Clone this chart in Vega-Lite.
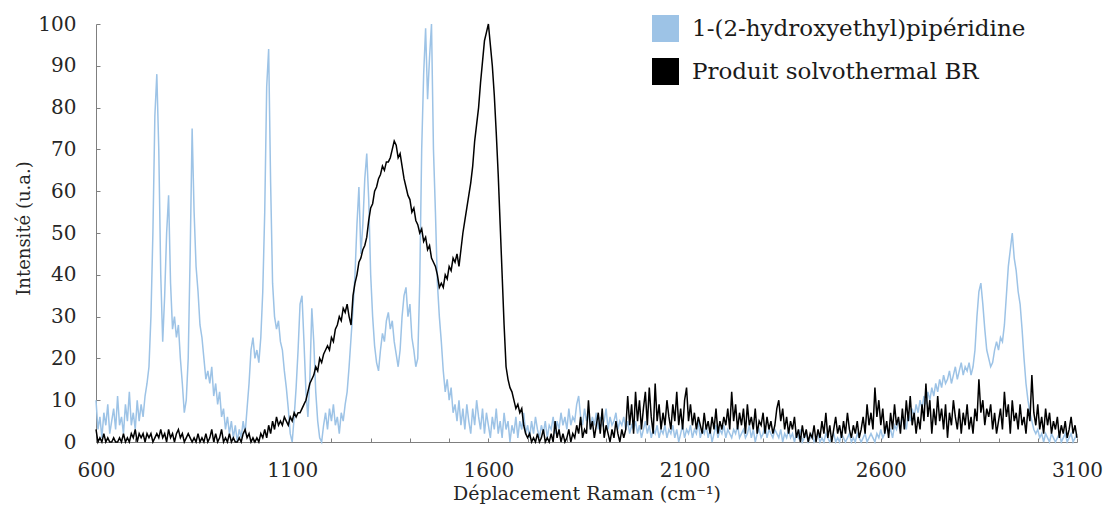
{
"$schema":"https://vega.github.io/schema/vega-lite/v6.json",
"width":981,"height":418,
"autosize":{"type":"none"},
"padding":{"left":96,"top":24,"right":28,"bottom":64},
"background":"white",
"config":{"view":{"stroke":null},"font":"DejaVu Serif"},
"datasets":{
"blue":[{"x":600,"y":10},{"x":605,"y":3},{"x":610,"y":6},{"x":615,"y":1},{"x":620,"y":7},{"x":625,"y":4},{"x":630,"y":9},{"x":635,"y":2},{"x":640,"y":5},{"x":645,"y":8},{"x":650,"y":3},{"x":655,"y":11},{"x":660,"y":4},{"x":665,"y":6},{"x":670,"y":2},{"x":675,"y":9},{"x":680,"y":5},{"x":685,"y":12},{"x":690,"y":4},{"x":695,"y":7},{"x":700,"y":3},{"x":705,"y":10},{"x":710,"y":5},{"x":715,"y":9},{"x":720,"y":6},{"x":725,"y":11},{"x":730,"y":14},{"x":735,"y":18},{"x":740,"y":30},{"x":745,"y":50},{"x":750,"y":78},{"x":755,"y":88},{"x":760,"y":70},{"x":765,"y":40},{"x":770,"y":24},{"x":775,"y":35},{"x":780,"y":50},{"x":785,"y":59},{"x":790,"y":38},{"x":795,"y":27},{"x":800,"y":30},{"x":805,"y":25},{"x":810,"y":28},{"x":815,"y":20},{"x":820,"y":14},{"x":825,"y":7},{"x":830,"y":10},{"x":835,"y":20},{"x":840,"y":45},{"x":845,"y":75},{"x":850,"y":55},{"x":855,"y":42},{"x":860,"y":36},{"x":865,"y":28},{"x":870,"y":25},{"x":875,"y":20},{"x":880,"y":15},{"x":885,"y":17},{"x":890,"y":14},{"x":895,"y":18},{"x":900,"y":11},{"x":905,"y":14},{"x":910,"y":9},{"x":915,"y":12},{"x":920,"y":6},{"x":925,"y":8},{"x":930,"y":3},{"x":935,"y":6},{"x":940,"y":2},{"x":945,"y":5},{"x":950,"y":1},{"x":955,"y":4},{"x":960,"y":0},{"x":965,"y":3},{"x":970,"y":1},{"x":975,"y":5},{"x":980,"y":2},{"x":985,"y":8},{"x":990,"y":14},{"x":995,"y":22},{"x":1000,"y":25},{"x":1005,"y":20},{"x":1010,"y":22},{"x":1015,"y":19},{"x":1020,"y":25},{"x":1025,"y":36},{"x":1030,"y":55},{"x":1035,"y":85},{"x":1040,"y":94},{"x":1045,"y":62},{"x":1050,"y":38},{"x":1055,"y":30},{"x":1060,"y":27},{"x":1065,"y":29},{"x":1070,"y":24},{"x":1075,"y":22},{"x":1080,"y":17},{"x":1085,"y":13},{"x":1090,"y":8},{"x":1095,"y":2},{"x":1100,"y":0},{"x":1105,"y":6},{"x":1110,"y":13},{"x":1115,"y":22},{"x":1120,"y":33},{"x":1125,"y":35},{"x":1130,"y":24},{"x":1135,"y":12},{"x":1140,"y":6},{"x":1145,"y":15},{"x":1150,"y":32},{"x":1155,"y":24},{"x":1160,"y":12},{"x":1165,"y":5},{"x":1170,"y":1},{"x":1175,"y":0},{"x":1180,"y":4},{"x":1185,"y":7},{"x":1190,"y":3},{"x":1195,"y":8},{"x":1200,"y":5},{"x":1205,"y":9},{"x":1210,"y":4},{"x":1215,"y":6},{"x":1220,"y":2},{"x":1225,"y":7},{"x":1230,"y":5},{"x":1235,"y":9},{"x":1240,"y":12},{"x":1245,"y":18},{"x":1250,"y":25},{"x":1255,"y":32},{"x":1260,"y":40},{"x":1265,"y":52},{"x":1270,"y":61},{"x":1275,"y":45},{"x":1280,"y":52},{"x":1285,"y":63},{"x":1290,"y":69},{"x":1295,"y":58},{"x":1300,"y":40},{"x":1305,"y":30},{"x":1310,"y":23},{"x":1315,"y":19},{"x":1320,"y":17},{"x":1325,"y":22},{"x":1330,"y":26},{"x":1335,"y":24},{"x":1340,"y":29},{"x":1345,"y":31},{"x":1350,"y":27},{"x":1355,"y":29},{"x":1360,"y":24},{"x":1365,"y":21},{"x":1370,"y":18},{"x":1375,"y":22},{"x":1380,"y":30},{"x":1385,"y":35},{"x":1390,"y":37},{"x":1395,"y":30},{"x":1400,"y":33},{"x":1405,"y":25},{"x":1410,"y":22},{"x":1415,"y":18},{"x":1420,"y":20},{"x":1425,"y":38},{"x":1430,"y":70},{"x":1435,"y":88},{"x":1440,"y":99},{"x":1445,"y":82},{"x":1450,"y":92},{"x":1455,"y":100},{"x":1460,"y":70},{"x":1465,"y":55},{"x":1470,"y":38},{"x":1475,"y":30},{"x":1480,"y":24},{"x":1485,"y":17},{"x":1490,"y":12},{"x":1495,"y":15},{"x":1500,"y":10},{"x":1505,"y":13},{"x":1510,"y":7},{"x":1515,"y":9},{"x":1520,"y":5},{"x":1525,"y":10},{"x":1530,"y":4},{"x":1535,"y":8},{"x":1540,"y":3},{"x":1545,"y":9},{"x":1550,"y":5},{"x":1555,"y":2},{"x":1560,"y":8},{"x":1565,"y":4},{"x":1570,"y":10},{"x":1575,"y":6},{"x":1580,"y":3},{"x":1585,"y":8},{"x":1590,"y":2},{"x":1595,"y":7},{"x":1600,"y":4},{"x":1605,"y":1},{"x":1610,"y":6},{"x":1615,"y":3},{"x":1620,"y":8},{"x":1625,"y":2},{"x":1630,"y":5},{"x":1635,"y":1},{"x":1640,"y":7},{"x":1645,"y":3},{"x":1650,"y":5},{"x":1655,"y":0},{"x":1660,"y":4},{"x":1665,"y":2},{"x":1670,"y":6},{"x":1675,"y":1},{"x":1680,"y":5},{"x":1685,"y":3},{"x":1690,"y":7},{"x":1695,"y":2},{"x":1700,"y":4},{"x":1705,"y":1},{"x":1710,"y":5},{"x":1715,"y":2},{"x":1720,"y":6},{"x":1725,"y":3},{"x":1730,"y":1},{"x":1735,"y":4},{"x":1740,"y":2},{"x":1745,"y":5},{"x":1750,"y":1},{"x":1755,"y":4},{"x":1760,"y":3},{"x":1765,"y":6},{"x":1770,"y":2},{"x":1775,"y":5},{"x":1780,"y":3},{"x":1785,"y":7},{"x":1790,"y":4},{"x":1795,"y":6},{"x":1800,"y":3},{"x":1805,"y":8},{"x":1810,"y":4},{"x":1815,"y":6},{"x":1820,"y":5},{"x":1825,"y":9},{"x":1830,"y":11},{"x":1835,"y":6},{"x":1840,"y":4},{"x":1845,"y":8},{"x":1850,"y":5},{"x":1855,"y":7},{"x":1860,"y":3},{"x":1865,"y":6},{"x":1870,"y":4},{"x":1875,"y":7},{"x":1880,"y":3},{"x":1885,"y":6},{"x":1890,"y":4},{"x":1895,"y":5},{"x":1900,"y":8},{"x":1905,"y":3},{"x":1910,"y":6},{"x":1915,"y":4},{"x":1920,"y":5},{"x":1925,"y":7},{"x":1930,"y":3},{"x":1935,"y":5},{"x":1940,"y":4},{"x":1945,"y":6},{"x":1950,"y":3},{"x":1955,"y":5},{"x":1960,"y":2},{"x":1965,"y":4},{"x":1970,"y":3},{"x":1975,"y":5},{"x":1980,"y":2},{"x":1985,"y":4},{"x":1990,"y":1},{"x":1995,"y":3},{"x":2000,"y":5},{"x":2005,"y":2},{"x":2010,"y":4},{"x":2015,"y":1},{"x":2020,"y":3},{"x":2025,"y":2},{"x":2030,"y":4},{"x":2035,"y":1},{"x":2040,"y":3},{"x":2045,"y":2},{"x":2050,"y":4},{"x":2055,"y":1},{"x":2060,"y":3},{"x":2065,"y":2},{"x":2070,"y":4},{"x":2075,"y":1},{"x":2080,"y":3},{"x":2085,"y":0},{"x":2090,"y":2},{"x":2095,"y":4},{"x":2100,"y":1},{"x":2105,"y":3},{"x":2110,"y":2},{"x":2115,"y":4},{"x":2120,"y":1},{"x":2125,"y":3},{"x":2130,"y":2},{"x":2135,"y":5},{"x":2140,"y":1},{"x":2145,"y":3},{"x":2150,"y":2},{"x":2155,"y":4},{"x":2160,"y":1},{"x":2165,"y":3},{"x":2170,"y":0},{"x":2175,"y":2},{"x":2180,"y":4},{"x":2185,"y":1},{"x":2190,"y":3},{"x":2195,"y":2},{"x":2200,"y":4},{"x":2205,"y":1},{"x":2210,"y":3},{"x":2215,"y":2},{"x":2220,"y":1},{"x":2225,"y":3},{"x":2230,"y":2},{"x":2235,"y":4},{"x":2240,"y":1},{"x":2245,"y":2},{"x":2250,"y":3},{"x":2255,"y":1},{"x":2260,"y":2},{"x":2265,"y":4},{"x":2270,"y":1},{"x":2275,"y":3},{"x":2280,"y":0},{"x":2285,"y":2},{"x":2290,"y":3},{"x":2295,"y":1},{"x":2300,"y":2},{"x":2305,"y":4},{"x":2310,"y":1},{"x":2315,"y":3},{"x":2320,"y":2},{"x":2325,"y":1},{"x":2330,"y":3},{"x":2335,"y":2},{"x":2340,"y":1},{"x":2345,"y":3},{"x":2350,"y":0},{"x":2355,"y":2},{"x":2360,"y":1},{"x":2365,"y":3},{"x":2370,"y":1},{"x":2375,"y":2},{"x":2380,"y":0},{"x":2385,"y":2},{"x":2390,"y":1},{"x":2395,"y":3},{"x":2400,"y":0},{"x":2405,"y":1},{"x":2410,"y":2},{"x":2415,"y":0},{"x":2420,"y":1},{"x":2425,"y":2},{"x":2430,"y":0},{"x":2435,"y":1},{"x":2440,"y":2},{"x":2445,"y":0},{"x":2450,"y":1},{"x":2455,"y":0},{"x":2460,"y":2},{"x":2465,"y":1},{"x":2470,"y":0},{"x":2475,"y":1},{"x":2480,"y":2},{"x":2485,"y":0},{"x":2490,"y":1},{"x":2495,"y":0},{"x":2500,"y":2},{"x":2505,"y":1},{"x":2510,"y":0},{"x":2515,"y":1},{"x":2520,"y":2},{"x":2525,"y":0},{"x":2530,"y":1},{"x":2535,"y":0},{"x":2540,"y":2},{"x":2545,"y":1},{"x":2550,"y":0},{"x":2555,"y":1},{"x":2560,"y":2},{"x":2565,"y":0},{"x":2570,"y":1},{"x":2575,"y":2},{"x":2580,"y":1},{"x":2585,"y":0},{"x":2590,"y":2},{"x":2595,"y":1},{"x":2600,"y":3},{"x":2605,"y":1},{"x":2610,"y":2},{"x":2615,"y":4},{"x":2620,"y":2},{"x":2625,"y":3},{"x":2630,"y":1},{"x":2635,"y":4},{"x":2640,"y":3},{"x":2645,"y":5},{"x":2650,"y":4},{"x":2655,"y":6},{"x":2660,"y":5},{"x":2665,"y":3},{"x":2670,"y":7},{"x":2675,"y":5},{"x":2680,"y":8},{"x":2685,"y":6},{"x":2690,"y":9},{"x":2695,"y":7},{"x":2700,"y":10},{"x":2705,"y":8},{"x":2710,"y":11},{"x":2715,"y":9},{"x":2720,"y":12},{"x":2725,"y":10},{"x":2730,"y":13},{"x":2735,"y":11},{"x":2740,"y":14},{"x":2745,"y":12},{"x":2750,"y":15},{"x":2755,"y":13},{"x":2760,"y":16},{"x":2765,"y":14},{"x":2770,"y":15},{"x":2775,"y":17},{"x":2780,"y":14},{"x":2785,"y":16},{"x":2790,"y":18},{"x":2795,"y":15},{"x":2800,"y":17},{"x":2805,"y":19},{"x":2810,"y":16},{"x":2815,"y":18},{"x":2820,"y":17},{"x":2825,"y":19},{"x":2830,"y":16},{"x":2835,"y":18},{"x":2840,"y":22},{"x":2845,"y":30},{"x":2850,"y":36},{"x":2855,"y":38},{"x":2860,"y":33},{"x":2865,"y":27},{"x":2870,"y":22},{"x":2875,"y":20},{"x":2880,"y":18},{"x":2885,"y":19},{"x":2890,"y":22},{"x":2895,"y":24},{"x":2900,"y":22},{"x":2905,"y":25},{"x":2910,"y":24},{"x":2915,"y":28},{"x":2920,"y":35},{"x":2925,"y":42},{"x":2930,"y":46},{"x":2935,"y":50},{"x":2940,"y":44},{"x":2945,"y":41},{"x":2950,"y":36},{"x":2955,"y":33},{"x":2960,"y":27},{"x":2965,"y":20},{"x":2970,"y":14},{"x":2975,"y":10},{"x":2980,"y":7},{"x":2985,"y":5},{"x":2990,"y":3},{"x":2995,"y":2},{"x":3000,"y":3},{"x":3005,"y":1},{"x":3010,"y":2},{"x":3015,"y":0},{"x":3020,"y":2},{"x":3025,"y":1},{"x":3030,"y":0},{"x":3035,"y":2},{"x":3040,"y":1},{"x":3045,"y":0},{"x":3050,"y":1},{"x":3055,"y":2},{"x":3060,"y":0},{"x":3065,"y":1},{"x":3070,"y":2},{"x":3075,"y":0},{"x":3080,"y":1},{"x":3085,"y":2},{"x":3090,"y":0},{"x":3095,"y":1},{"x":3100,"y":2}],
"black":[{"x":600,"y":3},{"x":605,"y":0},{"x":610,"y":1},{"x":615,"y":0},{"x":620,"y":2},{"x":625,"y":0},{"x":630,"y":1},{"x":635,"y":0},{"x":640,"y":0},{"x":645,"y":1},{"x":650,"y":0},{"x":655,"y":0},{"x":660,"y":1},{"x":665,"y":0},{"x":670,"y":2},{"x":675,"y":0},{"x":680,"y":1},{"x":685,"y":0},{"x":690,"y":2},{"x":695,"y":1},{"x":700,"y":3},{"x":705,"y":0},{"x":710,"y":2},{"x":715,"y":1},{"x":720,"y":2},{"x":725,"y":0},{"x":730,"y":2},{"x":735,"y":1},{"x":740,"y":2},{"x":745,"y":0},{"x":750,"y":1},{"x":755,"y":2},{"x":760,"y":1},{"x":765,"y":3},{"x":770,"y":1},{"x":775,"y":2},{"x":780,"y":0},{"x":785,"y":3},{"x":790,"y":1},{"x":795,"y":2},{"x":800,"y":0},{"x":805,"y":2},{"x":810,"y":3},{"x":815,"y":1},{"x":820,"y":2},{"x":825,"y":0},{"x":830,"y":1},{"x":835,"y":2},{"x":840,"y":1},{"x":845,"y":0},{"x":850,"y":1},{"x":855,"y":0},{"x":860,"y":2},{"x":865,"y":0},{"x":870,"y":1},{"x":875,"y":0},{"x":880,"y":2},{"x":885,"y":0},{"x":890,"y":1},{"x":895,"y":3},{"x":900,"y":0},{"x":905,"y":2},{"x":910,"y":0},{"x":915,"y":1},{"x":920,"y":3},{"x":925,"y":0},{"x":930,"y":1},{"x":935,"y":0},{"x":940,"y":2},{"x":945,"y":0},{"x":950,"y":1},{"x":955,"y":0},{"x":960,"y":0},{"x":965,"y":1},{"x":970,"y":0},{"x":975,"y":2},{"x":980,"y":3},{"x":985,"y":1},{"x":990,"y":2},{"x":995,"y":0},{"x":1000,"y":1},{"x":1005,"y":0},{"x":1010,"y":1},{"x":1015,"y":0},{"x":1020,"y":2},{"x":1025,"y":1},{"x":1030,"y":3},{"x":1035,"y":1},{"x":1040,"y":4},{"x":1045,"y":2},{"x":1050,"y":5},{"x":1055,"y":3},{"x":1060,"y":6},{"x":1065,"y":4},{"x":1070,"y":5},{"x":1075,"y":4},{"x":1080,"y":6},{"x":1085,"y":5},{"x":1090,"y":4},{"x":1095,"y":6},{"x":1100,"y":5},{"x":1105,"y":7},{"x":1110,"y":6},{"x":1115,"y":7},{"x":1120,"y":7},{"x":1125,"y":8},{"x":1130,"y":9},{"x":1135,"y":10},{"x":1140,"y":12},{"x":1145,"y":14},{"x":1150,"y":15},{"x":1155,"y":16},{"x":1160,"y":18},{"x":1165,"y":17},{"x":1170,"y":20},{"x":1175,"y":19},{"x":1180,"y":21},{"x":1185,"y":22},{"x":1190,"y":23},{"x":1195,"y":22},{"x":1200,"y":25},{"x":1205,"y":24},{"x":1210,"y":27},{"x":1215,"y":28},{"x":1220,"y":30},{"x":1225,"y":29},{"x":1230,"y":32},{"x":1235,"y":31},{"x":1240,"y":33},{"x":1245,"y":30},{"x":1250,"y":28},{"x":1255,"y":35},{"x":1260,"y":38},{"x":1265,"y":40},{"x":1270,"y":43},{"x":1275,"y":44},{"x":1280,"y":46},{"x":1285,"y":47},{"x":1290,"y":49},{"x":1295,"y":53},{"x":1300,"y":56},{"x":1305,"y":57},{"x":1310,"y":60},{"x":1315,"y":61},{"x":1320,"y":63},{"x":1325,"y":64},{"x":1330,"y":66},{"x":1335,"y":65},{"x":1340,"y":67},{"x":1345,"y":67},{"x":1350,"y":68},{"x":1355,"y":70},{"x":1360,"y":72},{"x":1365,"y":71},{"x":1370,"y":68},{"x":1375,"y":69},{"x":1380,"y":66},{"x":1385,"y":63},{"x":1390,"y":61},{"x":1395,"y":59},{"x":1400,"y":58},{"x":1405,"y":55},{"x":1410,"y":56},{"x":1415,"y":53},{"x":1420,"y":52},{"x":1425,"y":50},{"x":1430,"y":51},{"x":1435,"y":48},{"x":1440,"y":49},{"x":1445,"y":46},{"x":1450,"y":47},{"x":1455,"y":44},{"x":1460,"y":43},{"x":1465,"y":42},{"x":1470,"y":40},{"x":1475,"y":37},{"x":1480,"y":38},{"x":1485,"y":37},{"x":1490,"y":40},{"x":1495,"y":39},{"x":1500,"y":42},{"x":1505,"y":41},{"x":1510,"y":44},{"x":1515,"y":43},{"x":1520,"y":45},{"x":1525,"y":42},{"x":1530,"y":46},{"x":1535,"y":50},{"x":1540,"y":53},{"x":1545,"y":56},{"x":1550,"y":59},{"x":1555,"y":62},{"x":1560,"y":66},{"x":1565,"y":72},{"x":1570,"y":76},{"x":1575,"y":80},{"x":1580,"y":86},{"x":1585,"y":91},{"x":1590,"y":96},{"x":1595,"y":98},{"x":1600,"y":100},{"x":1605,"y":95},{"x":1610,"y":90},{"x":1615,"y":83},{"x":1620,"y":74},{"x":1625,"y":64},{"x":1630,"y":52},{"x":1635,"y":40},{"x":1640,"y":28},{"x":1645,"y":18},{"x":1650,"y":15},{"x":1655,"y":13},{"x":1660,"y":12},{"x":1665,"y":10},{"x":1670,"y":8},{"x":1675,"y":9},{"x":1680,"y":7},{"x":1685,"y":8},{"x":1690,"y":4},{"x":1695,"y":2},{"x":1700,"y":1},{"x":1705,"y":2},{"x":1710,"y":0},{"x":1715,"y":1},{"x":1720,"y":0},{"x":1725,"y":2},{"x":1730,"y":0},{"x":1735,"y":1},{"x":1740,"y":3},{"x":1745,"y":0},{"x":1750,"y":1},{"x":1755,"y":0},{"x":1760,"y":2},{"x":1765,"y":0},{"x":1770,"y":5},{"x":1775,"y":1},{"x":1780,"y":3},{"x":1785,"y":0},{"x":1790,"y":2},{"x":1795,"y":0},{"x":1800,"y":1},{"x":1805,"y":3},{"x":1810,"y":0},{"x":1815,"y":2},{"x":1820,"y":1},{"x":1825,"y":4},{"x":1830,"y":2},{"x":1835,"y":6},{"x":1840,"y":1},{"x":1845,"y":3},{"x":1850,"y":2},{"x":1855,"y":10},{"x":1860,"y":3},{"x":1865,"y":5},{"x":1870,"y":1},{"x":1875,"y":4},{"x":1880,"y":7},{"x":1885,"y":2},{"x":1890,"y":8},{"x":1895,"y":1},{"x":1900,"y":4},{"x":1905,"y":2},{"x":1910,"y":0},{"x":1915,"y":3},{"x":1920,"y":1},{"x":1925,"y":5},{"x":1930,"y":2},{"x":1935,"y":0},{"x":1940,"y":3},{"x":1945,"y":1},{"x":1950,"y":3},{"x":1955,"y":11},{"x":1960,"y":4},{"x":1965,"y":9},{"x":1970,"y":2},{"x":1975,"y":12},{"x":1980,"y":5},{"x":1985,"y":10},{"x":1990,"y":3},{"x":1995,"y":8},{"x":2000,"y":12},{"x":2005,"y":4},{"x":2010,"y":13},{"x":2015,"y":6},{"x":2020,"y":2},{"x":2025,"y":14},{"x":2030,"y":5},{"x":2035,"y":9},{"x":2040,"y":3},{"x":2045,"y":7},{"x":2050,"y":4},{"x":2055,"y":10},{"x":2060,"y":6},{"x":2065,"y":3},{"x":2070,"y":9},{"x":2075,"y":5},{"x":2080,"y":12},{"x":2085,"y":4},{"x":2090,"y":8},{"x":2095,"y":3},{"x":2100,"y":10},{"x":2105,"y":13},{"x":2110,"y":5},{"x":2115,"y":9},{"x":2120,"y":4},{"x":2125,"y":7},{"x":2130,"y":3},{"x":2135,"y":6},{"x":2140,"y":4},{"x":2145,"y":2},{"x":2150,"y":7},{"x":2155,"y":3},{"x":2160,"y":5},{"x":2165,"y":2},{"x":2170,"y":6},{"x":2175,"y":3},{"x":2180,"y":8},{"x":2185,"y":2},{"x":2190,"y":5},{"x":2195,"y":3},{"x":2200,"y":6},{"x":2205,"y":4},{"x":2210,"y":8},{"x":2215,"y":3},{"x":2220,"y":12},{"x":2225,"y":5},{"x":2230,"y":9},{"x":2235,"y":3},{"x":2240,"y":7},{"x":2245,"y":4},{"x":2250,"y":8},{"x":2255,"y":2},{"x":2260,"y":9},{"x":2265,"y":4},{"x":2270,"y":6},{"x":2275,"y":3},{"x":2280,"y":8},{"x":2285,"y":2},{"x":2290,"y":5},{"x":2295,"y":4},{"x":2300,"y":7},{"x":2305,"y":2},{"x":2310,"y":6},{"x":2315,"y":3},{"x":2320,"y":5},{"x":2325,"y":2},{"x":2330,"y":4},{"x":2335,"y":8},{"x":2340,"y":10},{"x":2345,"y":5},{"x":2350,"y":8},{"x":2355,"y":3},{"x":2360,"y":6},{"x":2365,"y":2},{"x":2370,"y":5},{"x":2375,"y":3},{"x":2380,"y":6},{"x":2385,"y":1},{"x":2390,"y":3},{"x":2395,"y":0},{"x":2400,"y":4},{"x":2405,"y":1},{"x":2410,"y":3},{"x":2415,"y":0},{"x":2420,"y":2},{"x":2425,"y":1},{"x":2430,"y":4},{"x":2435,"y":0},{"x":2440,"y":3},{"x":2445,"y":1},{"x":2450,"y":5},{"x":2455,"y":2},{"x":2460,"y":7},{"x":2465,"y":1},{"x":2470,"y":4},{"x":2475,"y":0},{"x":2480,"y":3},{"x":2485,"y":6},{"x":2490,"y":2},{"x":2495,"y":4},{"x":2500,"y":1},{"x":2505,"y":5},{"x":2510,"y":2},{"x":2515,"y":7},{"x":2520,"y":3},{"x":2525,"y":1},{"x":2530,"y":4},{"x":2535,"y":2},{"x":2540,"y":5},{"x":2545,"y":1},{"x":2550,"y":3},{"x":2555,"y":6},{"x":2560,"y":2},{"x":2565,"y":9},{"x":2570,"y":4},{"x":2575,"y":7},{"x":2580,"y":3},{"x":2585,"y":13},{"x":2590,"y":6},{"x":2595,"y":10},{"x":2600,"y":4},{"x":2605,"y":8},{"x":2610,"y":2},{"x":2615,"y":5},{"x":2620,"y":1},{"x":2625,"y":7},{"x":2630,"y":3},{"x":2635,"y":9},{"x":2640,"y":4},{"x":2645,"y":6},{"x":2650,"y":2},{"x":2655,"y":8},{"x":2660,"y":3},{"x":2665,"y":10},{"x":2670,"y":5},{"x":2675,"y":11},{"x":2680,"y":4},{"x":2685,"y":7},{"x":2690,"y":2},{"x":2695,"y":6},{"x":2700,"y":3},{"x":2705,"y":9},{"x":2710,"y":5},{"x":2715,"y":14},{"x":2720,"y":6},{"x":2725,"y":10},{"x":2730,"y":2},{"x":2735,"y":8},{"x":2740,"y":4},{"x":2745,"y":11},{"x":2750,"y":5},{"x":2755,"y":8},{"x":2760,"y":3},{"x":2765,"y":9},{"x":2770,"y":1},{"x":2775,"y":7},{"x":2780,"y":4},{"x":2785,"y":10},{"x":2790,"y":6},{"x":2795,"y":3},{"x":2800,"y":8},{"x":2805,"y":2},{"x":2810,"y":7},{"x":2815,"y":4},{"x":2820,"y":9},{"x":2825,"y":3},{"x":2830,"y":6},{"x":2835,"y":2},{"x":2840,"y":8},{"x":2845,"y":5},{"x":2850,"y":15},{"x":2855,"y":7},{"x":2860,"y":10},{"x":2865,"y":4},{"x":2870,"y":8},{"x":2875,"y":6},{"x":2880,"y":9},{"x":2885,"y":3},{"x":2890,"y":7},{"x":2895,"y":2},{"x":2900,"y":5},{"x":2905,"y":8},{"x":2910,"y":3},{"x":2915,"y":12},{"x":2920,"y":6},{"x":2925,"y":9},{"x":2930,"y":2},{"x":2935,"y":10},{"x":2940,"y":5},{"x":2945,"y":7},{"x":2950,"y":3},{"x":2955,"y":9},{"x":2960,"y":4},{"x":2965,"y":6},{"x":2970,"y":2},{"x":2975,"y":8},{"x":2980,"y":5},{"x":2985,"y":16},{"x":2990,"y":7},{"x":2995,"y":4},{"x":3000,"y":9},{"x":3005,"y":3},{"x":3010,"y":6},{"x":3015,"y":2},{"x":3020,"y":8},{"x":3025,"y":4},{"x":3030,"y":7},{"x":3035,"y":2},{"x":3040,"y":5},{"x":3045,"y":3},{"x":3050,"y":6},{"x":3055,"y":1},{"x":3060,"y":4},{"x":3065,"y":2},{"x":3070,"y":5},{"x":3075,"y":1},{"x":3080,"y":3},{"x":3085,"y":6},{"x":3090,"y":2},{"x":3095,"y":4},{"x":3100,"y":1}]
},
"encoding":{
"x":{"field":"x","type":"quantitative","scale":{"domain":[600,3100],"nice":false,"zero":false},
"axis":{"values":[600,700,800,900,1000,1100,1200,1300,1400,1500,1600,1700,1800,1900,2000,2100,2200,2300,2400,2500,2600,2700,2800,2900,3000,3100],
"labelExpr":"(datum.value-600)%500==0 ? datum.label : ''","format":"d","labelOverlap":false,"labelFlush":false,"grid":false,
"domainColor":"#7f7f7f","tickColor":"#7f7f7f","tickSize":-4,"labelPadding":22,"labelFont":"DejaVu Serif","labelFontSize":20,"labelColor":"#262626",
"title":"Déplacement Raman (cm⁻¹)","titleFont":"DejaVu Serif","titleFontSize":19,"titleFontWeight":"normal","titleColor":"#262626","titleBaseline":"top","titleY":42}},
"y":{"field":"y","type":"quantitative","scale":{"domain":[0,100],"nice":false},
"axis":{"values":[0,10,20,30,40,50,60,70,80,90,100],"labelFlush":false,"labelOverlap":false,"grid":false,
"domainColor":"#7f7f7f","tickColor":"#7f7f7f","tickSize":-4,"labelPadding":24,"labelFont":"DejaVu Serif","labelFontSize":20,"labelColor":"#262626",
"title":"Intensité (u.a.)","titleFont":"DejaVu Serif","titleFontSize":18,"titleFontWeight":"normal","titleColor":"#262626","titleBaseline":"alphabetic","titleX":-67,"titleY":204,"titleAngle":-90}}
},
"layer":[
{"data":{"name":"blue"},"mark":{"type":"line","strokeWidth":1.5},
"encoding":{"color":{"datum":"1-(2-hydroxyethyl)pipéridine","type":"nominal",
"scale":{"domain":["1-(2-hydroxyethyl)pipéridine","Produit solvothermal BR"],"range":["#9DC3E6","#000000"]},
"legend":{"orient":"none","legendX":556,"legendY":-9,"title":null,"padding":0,"symbolType":"square","symbolSize":729,"symbolStrokeWidth":0,
"labelFont":"DejaVu Serif","labelFontSize":23,"labelColor":"#1a1a1a","labelOffset":13,"rowPadding":16,"labelLimit":500,
"encode":{"symbols":{"update":{"fill":{"scale":"color","field":"value"},"fillOpacity":{"value":1},"strokeWidth":{"value":0}}}}}}}},
{"data":{"name":"black"},"mark":{"type":"line","strokeWidth":1.5},
"encoding":{"color":{"datum":"Produit solvothermal BR","type":"nominal"}}}
]
}
